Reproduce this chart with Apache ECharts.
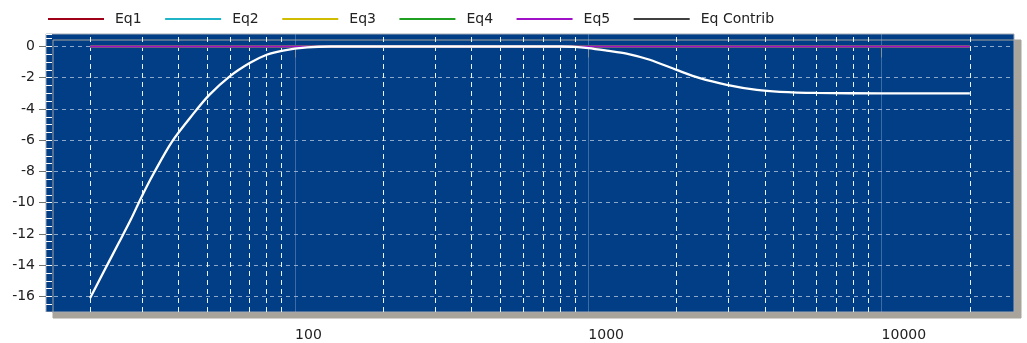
<!DOCTYPE html>
<html><head><meta charset="utf-8">
<script src="https://cdn.jsdelivr.net/npm/echarts@6/dist/echarts.min.js"></script>
<style>html,body{margin:0;padding:0;background:#fff}#c{width:1027px;height:343px}</style>
</head><body><div id="c"></div>
<script>
const seriesNames = ['Eq1', 'Eq2', 'Eq3', 'Eq4', 'Eq5', 'Eq Contrib'];
const seriesColors = ['#a00018', '#20b4c8', '#d0bc00', '#20a020', '#a010c8', '#ffffff'];
const eqFreq = [20, 20000];
const eq1 = [0, 0];
const eq2 = [0, 0];
const eq3 = [0, 0];
const eq4 = [0, 0];
const eq5 = [0, 0];
const contribFreq = [20, 22, 25, 27.5, 30, 33, 38, 45, 51, 60, 70, 80, 91, 110, 132, 200, 500, 800, 900, 1000, 1155, 1350, 1620, 2000, 2400, 2965, 3755, 4500, 6000, 10000, 20000];
const contribDb = [-16.1, -14.6, -12.6, -11.1, -9.6, -8.1, -6.1, -4.3, -3.1, -1.9, -1.06, -0.53, -0.26, -0.06, 0, 0, 0, 0, -0.02, -0.1, -0.26, -0.45, -0.85, -1.5, -2.03, -2.45, -2.78, -2.9, -2.97, -3.0, -3.0];
const yTickValues = [0, -2, -4, -6, -8, -10, -12, -14, -16];
const xTickValues = [100, 1000, 10000];
const gridFreqs = [20, 30, 40, 50, 60, 70, 80, 90, 200, 300, 400, 500, 600, 700, 800, 900, 2000, 3000, 4000, 5000, 6000, 7000, 8000, 9000, 20000];
const decadeFreqs = [100, 1000, 10000];

const FONT = 'DejaVu Sans';
const eqData = [eq1, eq2, eq3, eq4, eq5];

const series = eqData.map((vals, i) => ({
  name: seriesNames[i],
  type: 'line',
  data: eqFreq.map((f, j) => [f, vals[j]]),
  symbol: 'none',
  silent: true,
  animation: false,
  z: 2,
  lineStyle: { color: seriesColors[i], width: 2 },
  itemStyle: { color: seriesColors[i] }
}));
series[0].markLine = {
  silent: true, symbol: 'none', animation: false, z: 1,
  label: { show: false },
  data: gridFreqs.map(f => ({ xAxis: f, lineStyle: { color: '#e8f2fa', width: 1, type: [5, 4] } }))
    .concat(decadeFreqs.map(f => ({ xAxis: f, lineStyle: { color: 'rgba(170,195,225,0.35)', width: 1, type: 'solid' } })))
};
series.push({
  name: seriesNames[5],
  type: 'line',
  data: contribFreq.map((f, j) => [f, contribDb[j]]),
  symbol: 'none',
  smooth: 0.3,
  silent: true,
  animation: false,
  z: 3,
  lineStyle: { color: '#ffffff', width: 2.3 },
  itemStyle: { color: '#ffffff' }
});

const chart = echarts.init(document.getElementById('c'), null, { renderer: 'canvas' });
chart.setOption({
  animation: false,
  backgroundColor: '#ffffff',
  textStyle: { fontFamily: FONT },
  legend: {
    left: 48, top: 12, padding: 0,
    itemWidth: 56, itemHeight: 14, itemGap: 23.5,
    textStyle: { fontFamily: FONT, fontSize: 14, color: '#222', padding: [0, 0, 0, 6] },
    data: seriesNames.map((n, i) => i === 5
      ? { name: n, icon: 'path://M0,0L56,0L56,1.4L0,1.4Z', itemStyle: { color: '#000', borderWidth: 0 } }
      : { name: n, icon: 'path://M0,0L56,0L56,2L0,2Z', itemStyle: { color: seriesColors[i], borderWidth: 0 } })
  },
  grid: {
    left: 46, top: 34, right: 13, bottom: 31,
    show: true,
    backgroundColor: '#013e86',
    borderColor: '#a4aab2', borderWidth: 1,
    shadowColor: '#a8a39b', shadowOffsetX: 7, shadowOffsetY: 6, shadowBlur: 0
  },
  xAxis: {
    type: 'log', logBase: 10,
    min: 14.1421, max: 28284.3,
    axisLine: { show: false },
    splitLine: { show: false },
    axisTick: { show: true, length: 11, customValues: xTickValues, lineStyle: { color: '#707070' } },
    axisLabel: {
      customValues: xTickValues,
      align: 'left', margin: 16,
      fontFamily: FONT, fontSize: 14, color: '#222',
      formatter: v => String(Math.round(v))
    }
  },
  yAxis: [{
    type: 'value',
    min: -17, max: 0.8, splitNumber: 9,
    axisLine: { show: false },
    axisTick: { show: true, length: 7, customValues: yTickValues, lineStyle: { color: '#707070' } },
    axisLabel: { customValues: yTickValues, margin: 11, fontFamily: FONT, fontSize: 14, color: '#222' },
    splitLine: { show: true, lineStyle: { color: '#8ea8cc', width: 1, type: [4, 4] } }
  }, {
    type: 'value',
    position: 'left', offset: 0,
    min: -17, max: 0.8, interval: 0.5,
    axisLine: { show: false },
    axisTick: { show: true, inside: true, length: 6, lineStyle: { color: '#ffffff', width: 1 } },
    axisLabel: { show: false },
    splitLine: { show: false }
  }],
  series: series
});
</script></body></html>
